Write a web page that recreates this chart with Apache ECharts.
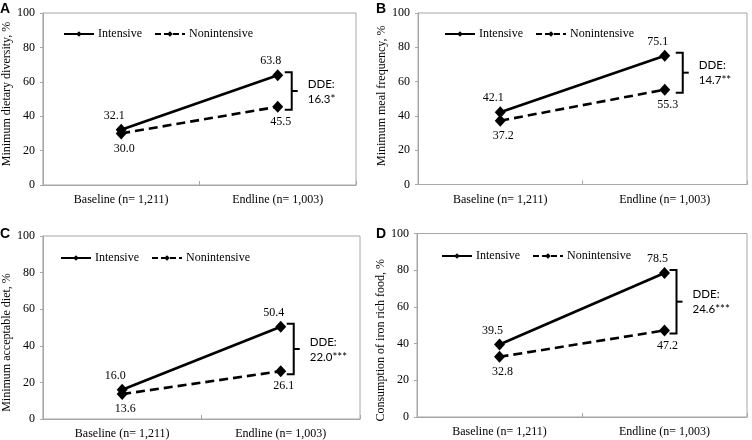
<!DOCTYPE html>
<html>
<head>
<meta charset="utf-8">
<script src="https://cdn.jsdelivr.net/npm/echarts@6/dist/echarts.min.js"></script>
<style>html,body{margin:0;padding:0;background:#fff;}#c{width:752px;height:440px;}</style>
</head>
<body>
<div id="c"></div>
<script>
// ---- data ----
const categories = ['Baseline (n= 1,211)', 'Endline (n= 1,003)'];
const panelLetters = ['A', 'B', 'C', 'D'];
const yAxisNames = ['Minimum dietary diversity, %', 'Minimum meal frequency, %', 'Minimum acceptable diet, %', 'Consumption of iron rich food, %'];
const seriesNames = ['Intensive', 'Nonintensive'];
const intensiveA = [32.1, 63.8];
const nonintensiveA = [30.0, 45.5];
const intensiveB = [42.1, 75.1];
const nonintensiveB = [37.2, 55.3];
const intensiveC = [16.0, 50.4];
const nonintensiveC = [13.6, 26.1];
const intensiveD = [39.5, 78.5];
const nonintensiveD = [32.8, 47.2];
const ddeLabels = ['16.3*', '14.7**', '22.0***', '24.6***'];
const yMin = 0, yMax = 100, yStep = 20;

const intensiveAll = [intensiveA, intensiveB, intensiveC, intensiveD];
const nonintensiveAll = [nonintensiveA, nonintensiveB, nonintensiveC, nonintensiveD];

// ---- layout / style ----
const grids = [
  {left: 41, top: 13, width: 315, height: 172},
  {left: 418, top: 13, width: 329, height: 171.5},
  {left: 42, top: 236, width: 318, height: 183},
  {left: 417, top: 233.5, width: 330, height: 183.5}
];
const letterPos = [{left: 0, top: 2}, {left: 376, top: 2}, {left: 0, top: 227}, {left: 376, top: 227}];
const legendPos = [{left: 63, top: 28}, {left: 444, top: 28}, {left: 60, top: 252}, {left: 441, top: 250}];
const namePadding = [[0, 0, 0, 10], [0, 0, 0, 6], [0, 30, 0, 0], [0, 30, 0, 0]];
const bracketGap = [14, 18, 13, 12];
const serif = '"Liberation Serif", "Times New Roman", serif';
const sans = 'Lato, "Liberation Sans", sans-serif';
const gray = '#a6a6a6';

const option = {
  animation: false,
  backgroundColor: '#fff',
  title: panelLetters.map((t, i) => ({
    text: t, left: letterPos[i].left, top: letterPos[i].top, padding: 0,
    textStyle: {fontFamily: '"Liberation Sans", Arial, sans-serif', fontWeight: 'bold', fontSize: 14, color: '#000'}
  })),
  legend: legendPos.map((p, i) => ({
    left: p.left, top: p.top, padding: 0, itemWidth: 30, itemHeight: 7, itemGap: 12,
    data: [
      {name: seriesNames[0]},
      {name: seriesNames[1], lineStyle: {type: [6, 3]}}
    ],
    selectedMode: false,
    textStyle: {fontFamily: serif, fontSize: 12, color: '#000', padding: [0, 0, 0, -1]}
  })),
  grid: grids.map(g => Object.assign({show: true, borderColor: gray, borderWidth: 1}, g)),
  xAxis: grids.map((g, i) => ({
    type: 'category', gridIndex: i, data: categories, boundaryGap: true,
    axisLine: {lineStyle: {color: gray, width: 1}},
    axisTick: {show: true, inside: true, length: 4, lineStyle: {color: gray}},
    axisLabel: {fontFamily: serif, fontSize: 12, color: '#000', margin: 9}
  })),
  yAxis: grids.map((g, i) => ({
    type: 'value', gridIndex: i, min: yMin, max: yMax, interval: yStep,
    name: yAxisNames[i], nameLocation: 'middle', nameGap: 27,
    nameTextStyle: {fontFamily: serif, fontSize: 12, color: '#000', padding: namePadding[i]},
    axisLine: {show: true, lineStyle: {color: gray, width: 1}},
    axisTick: {show: true, inside: false, length: 3, lineStyle: {color: gray}},
    splitLine: {show: false},
    axisLabel: {fontFamily: serif, fontSize: 12, color: '#000', margin: 8}
  })),
  series: []
};

for (let i = 0; i < 4; i++) {
  option.series.push({
    name: seriesNames[0], type: 'line', xAxisIndex: i, yAxisIndex: i,
    data: intensiveAll[i], symbol: 'diamond', symbolSize: [11, 12],
    lineStyle: {color: '#000', width: 2.6}, itemStyle: {color: '#000'},
    label: {show: true, position: 'top', distance: 2, offset: [-7, 0], fontFamily: serif, fontSize: 12, color: '#000',
      formatter: p => p.value.toFixed(1)}
  });
  option.series.push({
    name: seriesNames[1], type: 'line', xAxisIndex: i, yAxisIndex: i,
    data: nonintensiveAll[i], symbol: 'diamond', symbolSize: [11, 12],
    lineStyle: {color: '#000', width: 2.6, type: [9, 5]}, itemStyle: {color: '#000'},
    label: {show: true, position: 'bottom', distance: 3, offset: [3, 0], fontFamily: serif, fontSize: 12, color: '#000',
      formatter: p => p.value.toFixed(1)}
  });
  const gap = bracketGap[i];
  const lbl = ddeLabels[i];
  option.series.push({
    type: 'custom', xAxisIndex: i, yAxisIndex: i, silent: true,
    encode: {x: 0, y: [1, 2]},
    data: [[1, intensiveAll[i][1], nonintensiveAll[i][1]]],
    renderItem: function (params, api) {
      const p1 = api.coord([api.value(0), api.value(1)]);
      const p2 = api.coord([api.value(0), api.value(2)]);
      const x = p1[0] + gap;
      const top = p1[1] - 3, bot = p2[1] + 3, mid = (top + bot) / 2;
      const st = {stroke: '#000', lineWidth: 2, fill: null};
      return {
        type: 'group',
        children: [
          {type: 'polyline', shape: {points: [[x - 7, top], [x, top], [x, bot], [x - 7, bot]]}, style: st},
          {type: 'line', shape: {x1: x, y1: mid, x2: x + 6, y2: mid}, style: st},
          {type: 'text', x: x + 16, y: mid - 7, style: {text: 'DDE:', fontFamily: sans, fontSize: 11.5, fill: '#000', verticalAlign: 'middle'}},
          {type: 'text', x: x + 16, y: mid + 8, style: {text: lbl, fontFamily: sans, fontSize: 11.5, fill: '#000', verticalAlign: 'middle'}}
        ]
      };
    }
  });
}

const chart = echarts.init(document.getElementById('c'), null, {renderer: 'canvas'});
chart.setOption(option);
</script>
</body>
</html>
